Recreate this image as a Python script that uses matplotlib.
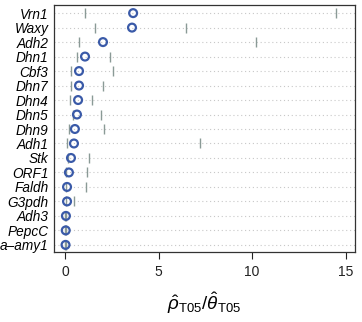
import matplotlib
matplotlib.use("Agg")
import matplotlib.pyplot as plt

genes = ["Vrn1", "Waxy", "Adh2", "Dhn1", "Cbf3", "Dhn7", "Dhn4", "Dhn5", "Dhn9",
         "Adh1", "Stk", "ORF1", "Faldh", "G3pdh", "Adh3", "PepcC", "a\u2013amy1"]
ratio = [3.64, 3.58, 2.03, 1.07, 0.75, 0.75, 0.70, 0.64, 0.53,
         0.48, 0.32, 0.21, 0.11, 0.11, 0.05, 0.04, 0.03]
lower = [1.07, 1.60, 0.77, 0.62, 0.30, 0.30, 0.28, 0.41, 0.21,
         0.09, 0.14, 0.05, 0.03, 0.05, 0.01, 0.01, 0.01]
upper = [14.5, 6.45, 10.2, 2.42, 2.55, 2.05, 1.44, 1.91, 2.10,
         7.22, 1.27, 1.19, 1.10, 0.46, 0.06, 0.05, 0.04]
xticks = [0, 5, 10, 15]

plt.rcParams['font.family'] = ['Liberation Sans', 'DejaVu Sans']
plt.rcParams['mathtext.fontset'] = 'custom'
plt.rcParams['mathtext.rm'] = 'Liberation Sans'
plt.rcParams['mathtext.it'] = 'Liberation Sans:italic'

fig = plt.figure(figsize=(3.62, 3.22), dpi=100)
ax = fig.add_axes([0.149, 0.217, 0.832, 0.767])

ypos = list(range(len(genes)))
for y in ypos:
    ax.axhline(y, color="#c8c8c8", linestyle=(0, (1, 2.5)), linewidth=0.8, zorder=1)

ax.scatter(lower, ypos, marker="|", s=60, color="#8a9a96", linewidths=1.0, zorder=2)
ax.scatter(upper, ypos, marker="|", s=60, color="#8a9a96", linewidths=1.0, zorder=2)
ax.scatter(ratio, ypos, s=32, facecolors="none", edgecolors="#3a5aa8", linewidths=1.6, zorder=3)

ax.set_xlim(-0.59, 15.5)
ax.set_ylim(16.5, -0.55)
ax.set_yticks(ypos)
ax.set_yticklabels(genes, fontstyle="italic", fontsize=9.8)
ax.tick_params(axis="y", length=0, pad=4)
ax.set_xticks(xticks)
ax.set_xticklabels([str(t) for t in xticks], fontsize=10)
ax.tick_params(axis="x", length=5, width=0.8, pad=4, colors="#222222")
for s in ax.spines.values():
    s.set_linewidth(0.9)
    s.set_color("#333333")
ax.set_xlabel(r"$\hat{\rho}_{\mathrm{T05}}/\hat{\theta}_{\mathrm{T05}}$", fontsize=13.5, labelpad=8)

fig.savefig("out.png", dpi=100)
